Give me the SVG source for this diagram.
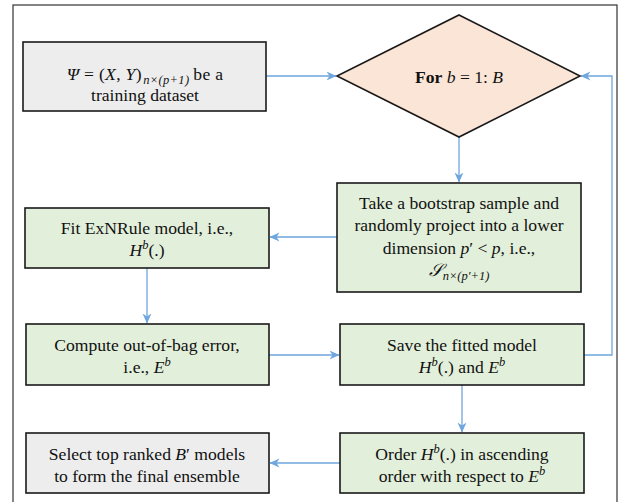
<svg xmlns="http://www.w3.org/2000/svg" width="624" height="502" viewBox="0 0 624 502">
<defs>
<style>
.box{stroke:#1a1a1a;stroke-width:1.6}
.gray{fill:#ededed}
.green{fill:#e2efda}
.dia{fill:#fbe5d6}
.t{font-family:'Liberation Serif','Times New Roman',serif;font-size:17.6px;fill:#111;text-anchor:middle}
.m{font-style:italic}
.s{font-size:12.5px}
.c{stroke:#6ea6dd;stroke-width:1.3;fill:none}
</style>
<marker id="ah" viewBox="0 0 10 10" refX="9.5" refY="5" markerWidth="10" markerHeight="10" markerUnits="userSpaceOnUse" orient="auto">
<path d="M0,0.5 L10,5 L0,9.5 L3,5 z" fill="#6ea6dd"/>
</marker>
</defs>
<rect x="0" y="0" width="624" height="502" fill="#fff"/>
<rect x="13" y="5" width="604" height="510" fill="none" stroke="#333" stroke-width="1.2"/>
<g id="connectors">
<path class="c" d="M266,76 H336" marker-end="url(#ah)"/>
<path class="c" d="M459,137 V182" marker-end="url(#ah)"/>
<path class="c" d="M337,237 H270" marker-end="url(#ah)"/>
<path class="c" d="M147,268 V323" marker-end="url(#ah)"/>
<path class="c" d="M269,355 H339" marker-end="url(#ah)"/>
<path class="c" d="M584,355 H612 V76 H581" marker-end="url(#ah)"/>
<path class="c" d="M462,385 V432" marker-end="url(#ah)"/>
<path class="c" d="M340,463 H270" marker-end="url(#ah)"/>
</g>
<g id="dataset">
<rect class="box gray" x="23" y="42" width="243" height="69"/>
<text class="t" x="145" y="80" letter-spacing="0.3"><tspan class="m">Ψ</tspan> = (<tspan class="m">X</tspan>, <tspan class="m">Y</tspan>)<tspan class="s m" dx="1.5" dy="4">n×(p+1)</tspan><tspan dx="4" dy="-4">be a</tspan></text>
<text class="t" x="145" y="101">training dataset</text>
</g>
<g id="loop">
<polygon class="box dia" points="459,15 580,76 459,137 337,76"/>
<text class="t" x="459" y="83"><tspan font-weight="bold">For</tspan> <tspan class="m">b</tspan> = 1: <tspan class="m">B</tspan></text>
</g>
<g id="bootstrap">
<rect class="box green" x="337" y="183" width="244" height="109"/>
<text class="t" x="459" y="209">Take a bootstrap sample and</text>
<text class="t" x="459" y="231">randomly project into a lower</text>
<text class="t" x="459" y="254">dimension <tspan class="m">p</tspan>′ &lt; <tspan class="m">p</tspan>, i.e.,</text>
<text class="t" x="459" y="276"><tspan class="m">𝒮</tspan><tspan class="s m" dy="4">n×(p′+1)</tspan></text>
</g>
<g id="fit">
<rect class="box green" x="25" y="208" width="244" height="60"/>
<text class="t" x="147" y="234">Fit ExNRule model, i.e.,</text>
<text class="t" x="147" y="256"><tspan class="m">H</tspan><tspan class="s m" dy="-7">b</tspan><tspan dy="7">(.)</tspan></text>
</g>
<g id="oob">
<rect class="box green" x="26" y="324" width="243" height="61"/>
<text class="t" x="147" y="351">Compute out-of-bag error,</text>
<text class="t" x="147" y="373">i.e., <tspan class="m">E</tspan><tspan class="s m" dy="-7">b</tspan></text>
</g>
<g id="save">
<rect class="box green" x="340" y="324" width="244" height="61"/>
<text class="t" x="462" y="351">Save the fitted model</text>
<text class="t" x="462" y="373"><tspan class="m">H</tspan><tspan class="s m" dy="-7">b</tspan><tspan dy="7">(.) and </tspan><tspan class="m">E</tspan><tspan class="s m" dy="-7">b</tspan></text>
</g>
<g id="order">
<rect class="box green" x="340" y="433" width="244" height="60"/>
<text class="t" x="462" y="460">Order <tspan class="m">H</tspan><tspan class="s m" dy="-7">b</tspan><tspan dy="7">(.) in ascending</tspan></text>
<text class="t" x="462" y="482">order with respect to <tspan class="m">E</tspan><tspan class="s m" dy="-7">b</tspan></text>
</g>
<g id="select">
<rect class="box gray" x="26" y="433" width="243" height="60"/>
<text class="t" x="147" y="460">Select top ranked <tspan class="m">B</tspan>′ models</text>
<text class="t" x="147" y="482">to form the final ensemble</text>
</g>
</svg>
